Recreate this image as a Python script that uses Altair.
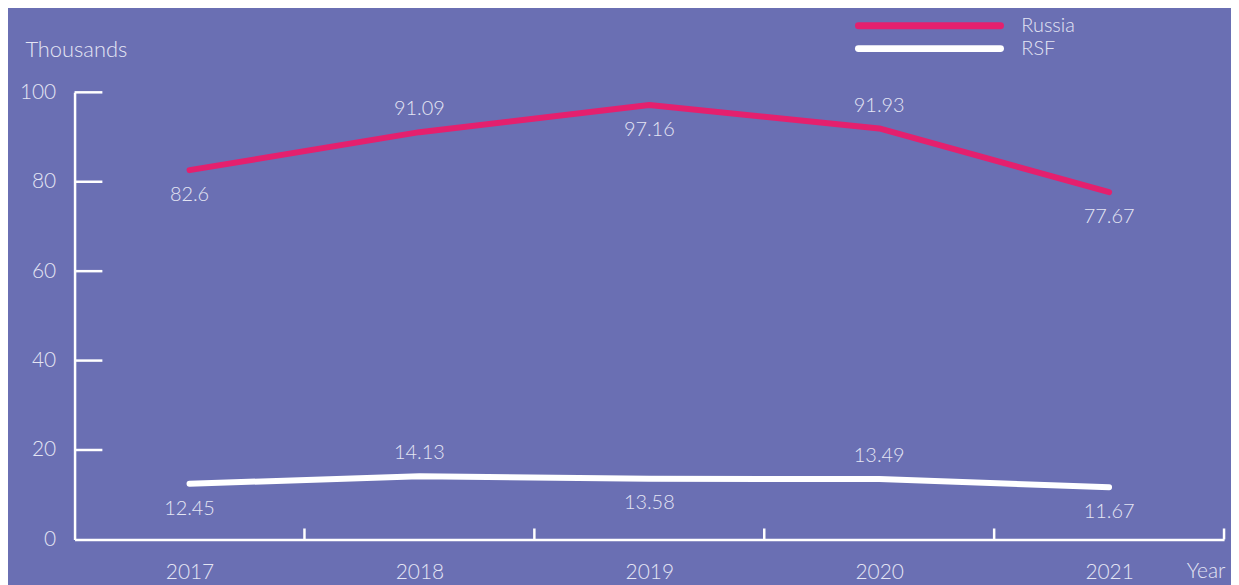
import altair as alt
import pandas as pd

years = [2017, 2018, 2019, 2020, 2021]
russia = [82.6, 91.09, 97.16, 91.93, 77.67]
rsf = [12.45, 14.13, 13.58, 13.49, 11.67]
series_names = ["Russia", "RSF"]
y_ticks = [20, 40, 60, 80, 100]
x_boundaries = [2017.5, 2018.5, 2019.5, 2020.5, 2021.5]
above_years = [2018, 2020]

BG = "#6a6fb3"
PINK = "#e4206e"
WHITE = "#ffffff"
TXT = "#e4e5f3"
FONT = "Lato"

rows = []
for name, vals in zip(series_names, [russia, rsf]):
    for yr, v in zip(years, vals):
        rows.append({"year": yr, "value": v, "series": name, "above": yr in above_years})
df = pd.DataFrame(rows)

xs = alt.Scale(domain=[2016.5, 2021.5], nice=False, zero=False)
ys = alt.Scale(domain=[0, 100], nice=False)
color = alt.Color("series:N", scale=alt.Scale(domain=series_names, range=[PINK, WHITE]), legend=None)

base = alt.Chart(df)

lines = base.mark_line(strokeWidth=6, strokeCap="round", strokeJoin="round").encode(
    x=alt.X("year:Q", scale=xs, axis=alt.Axis(
        values=years, format="d", ticks=False, tickSize=0, grid=False,
        domainColor=WHITE, domainWidth=2.5, labelColor=TXT, labelFontSize=21,
        labelFont=FONT, labelFontWeight=300, labelPadding=33, labelBaseline="middle",
        title="Year", titleColor=TXT, titleFont=FONT, titleFontWeight=300, titleFontSize=21,
        titleX=1119, titleY=32, titleAlign="left", titleBaseline="middle")),
    y=alt.Y("value:Q", scale=ys, axis=alt.Axis(
        values=[0, 20, 40, 60, 80, 100], ticks=False, tickSize=0, grid=False,
        domainColor=WHITE, domainWidth=2.5, labelColor=TXT, labelFontSize=21,
        labelFont=FONT, labelFontWeight=300, labelPadding=19,
        title="Thousands", titleColor=TXT, titleFont=FONT, titleFontWeight=300, titleFontSize=22,
        titleAngle=0, titleX=-50, titleY=-43, titleAlign="left", titleBaseline="middle")),
    color=color,
    detail="series:N",
)

lbl_below = base.transform_filter("!datum.above").mark_text(
    dy=25, fontSize=20, font=FONT, fontWeight=300, color=TXT, baseline="middle"
).encode(x=alt.X("year:Q", scale=xs), y=alt.Y("value:Q", scale=ys), text="value:Q")

lbl_above = base.transform_filter("datum.above").mark_text(
    dy=-23, fontSize=20, font=FONT, fontWeight=300, color=TXT, baseline="middle"
).encode(x=alt.X("year:Q", scale=xs), y=alt.Y("value:Q", scale=ys), text="value:Q")

ytick_df = pd.DataFrame({"v": y_ticks})
yticks = alt.Chart(ytick_df).mark_rule(color=WHITE, strokeWidth=2.5).encode(
    y=alt.Y("v:Q", scale=ys), x=alt.value(0), x2=alt.value(28))

xtick_df = pd.DataFrame({"b": x_boundaries})
xticks = alt.Chart(xtick_df).mark_rule(color=WHITE, strokeWidth=2.5).encode(
    x=alt.X("b:Q", scale=xs), y=alt.value(450), y2=alt.value(439))

leg_r1 = alt.Chart(pd.DataFrame({"s": [series_names[0]]})).mark_rule(
    color=PINK, strokeWidth=7, strokeCap="round").encode(
    x=alt.value(789), x2=alt.value(932), y=alt.value(-67))
leg_r2 = alt.Chart(pd.DataFrame({"s": [series_names[1]]})).mark_rule(
    color=WHITE, strokeWidth=7, strokeCap="round").encode(
    x=alt.value(789), x2=alt.value(932), y=alt.value(-44))
leg_t1 = alt.Chart(pd.DataFrame({"s": [series_names[0]]})).mark_text(
    align="left", baseline="middle", fontSize=20, font=FONT, fontWeight=300, color=TXT).encode(
    x=alt.value(953), y=alt.value(-67), text="s:N")
leg_t2 = alt.Chart(pd.DataFrame({"s": [series_names[1]]})).mark_text(
    align="left", baseline="middle", fontSize=20, font=FONT, fontWeight=300, color=TXT).encode(
    x=alt.value(953), y=alt.value(-44), text="s:N")

chart = alt.layer(lines, lbl_below, lbl_above, yticks, xticks, leg_r1, leg_r2, leg_t1, leg_t2).properties(
    width=1157, height=450,
    background=BG,
    autosize=alt.AutoSizeParams(type="none"),
    padding={"left": 67, "top": 83, "right": 7, "bottom": 44},
).configure_view(stroke=None)

chart.save("out.html", embed_options={"renderer": "svg", "actions": False})
